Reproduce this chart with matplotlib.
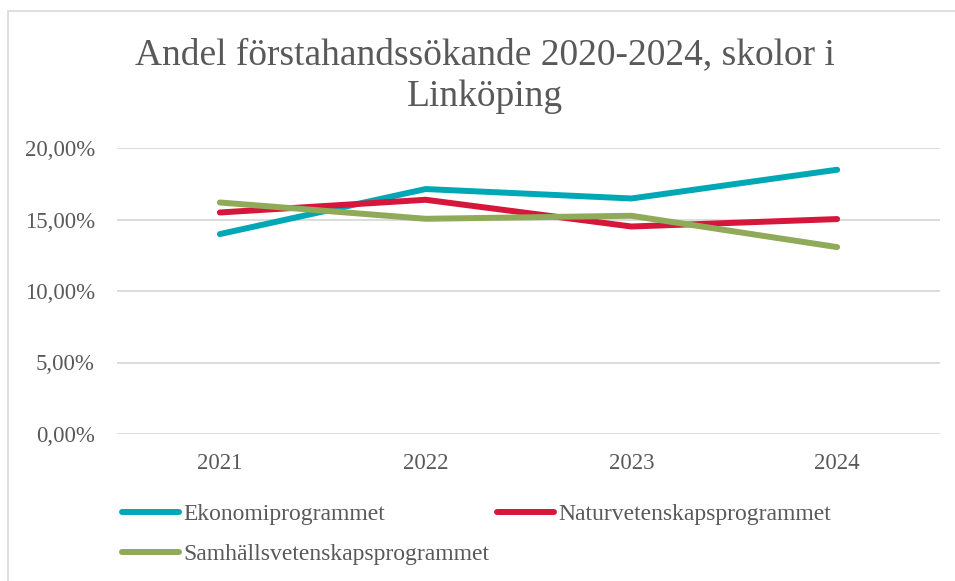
import matplotlib.pyplot as plt
from matplotlib.patches import Rectangle

years = ['2021', '2022', '2023', '2024']
ekonomi = [13.98, 17.13, 16.47, 18.48]
natur = [15.49, 16.38, 14.51, 15.03]
samhalle = [16.19, 15.05, 15.26, 13.07]
series_names = ['Ekonomiprogrammet', 'Naturvetenskapsprogrammet', 'Samhällsvetenskapsprogrammet']
series_colors = ['#00a8b5', '#d6163a', '#8faa58']
y_ticks = [0, 5, 10, 15, 20]

plt.rcParams['font.family'] = ['Liberation Serif', 'DejaVu Serif']
text_col = '#595959'
grid_col = '#d9d9d9'

fig = plt.figure(figsize=(9.55, 5.81), dpi=100)
fig.patches.append(Rectangle((8 / 955, -0.1), 1.2, 1 - 11 / 581 + 0.1, transform=fig.transFigure,
                             fill=False, ec=grid_col, lw=1.2))

ax = fig.add_axes([117 / 955, 1 - 434 / 581, (940 - 117) / 955, (434 - 148) / 581])
x = range(len(years))
lines = []
for vals, name, col in zip([ekonomi, natur, samhalle], series_names, series_colors):
    ln, = ax.plot(x, vals, color=col, lw=4.3, solid_capstyle='round', solid_joinstyle='round', label=name)
    lines.append(ln)

ax.set_xlim(-0.5, len(years) - 0.5)
ax.set_ylim(0, 20)
ax.set_xticks(list(x))
ax.set_xticklabels(years)
ax.set_yticks(y_ticks)
ax.set_yticklabels(['%d,00%%' % v for v in y_ticks])
ax.tick_params(length=0, labelsize=16.5, colors=text_col)
ax.tick_params(axis='x', pad=14)
ax.tick_params(axis='y', pad=16)
ax.grid(axis='y', color=grid_col, lw=1.3)
ax.set_axisbelow(True)
for s in ax.spines.values():
    s.set_visible(False)

fig.text(485 / 955, 1 - 38 / 581, 'Andel förstahandssökande 2020-2024, skolor i\nLinköping',
         ha='center', va='top', fontsize=27, color=text_col, linespacing=1.26)

# legend fills row by row in the reference: Eko, Natur / Samhälls
order = [0, 2, 1]
leg = fig.legend([lines[i] for i in order], [series_names[i] for i in order],
                 loc='upper left', bbox_to_anchor=(113 / 955, 1 - 494 / 581), ncol=2, frameon=False,
                 fontsize=17, handlelength=2.4, handletextpad=0.2, columnspacing=0.3,
                 labelspacing=0.8, borderaxespad=0)
for t in leg.get_texts():
    t.set_color(text_col)

fig.savefig('out.png', dpi=100)
